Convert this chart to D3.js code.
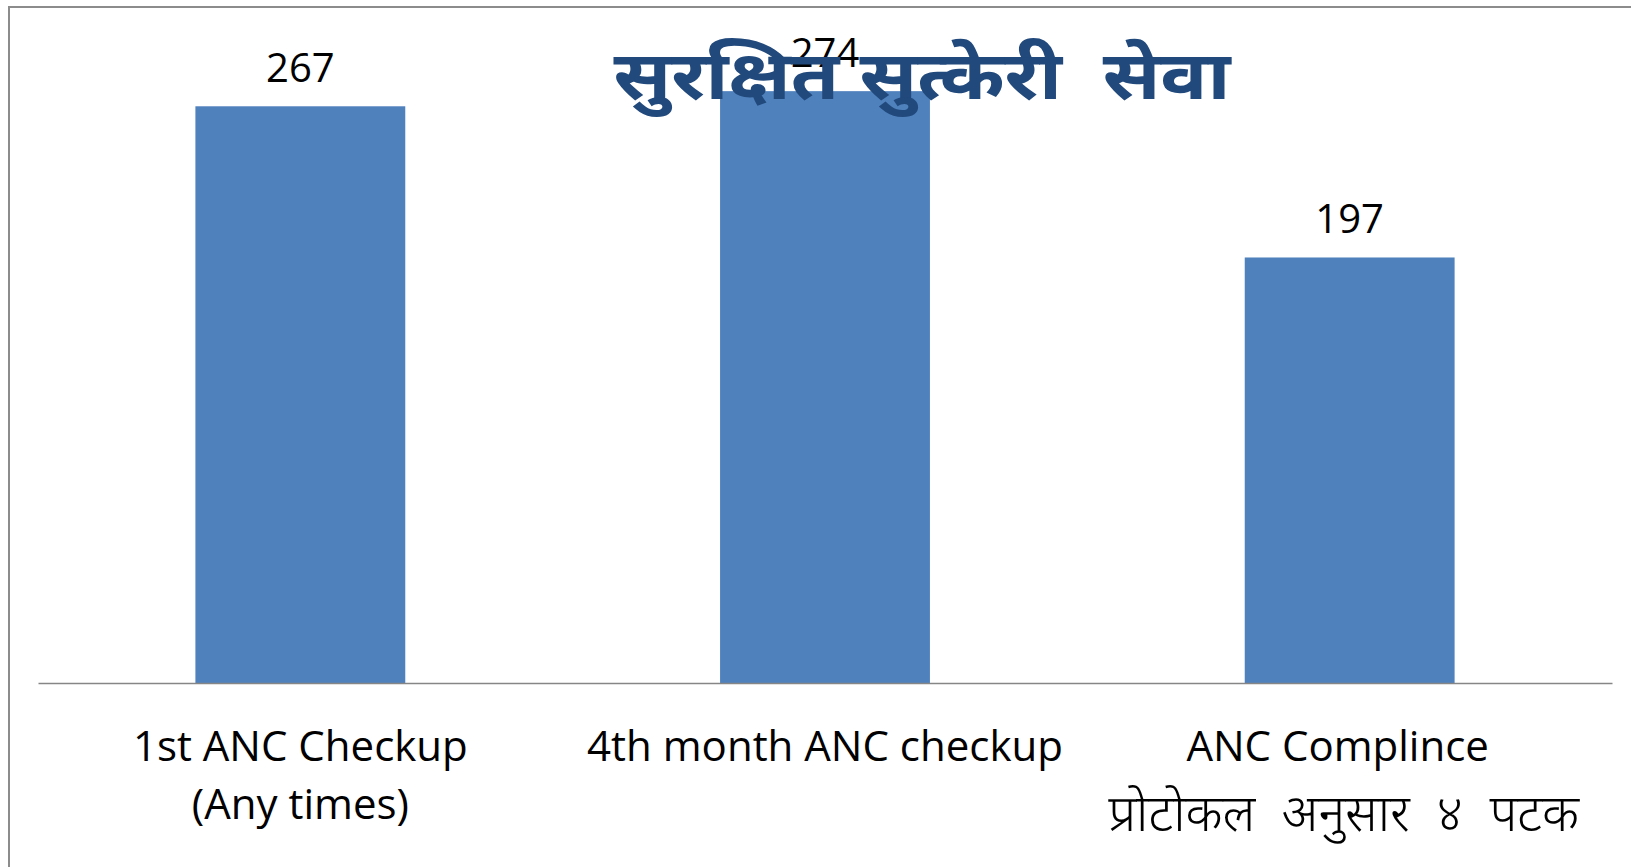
<!DOCTYPE html>
<html>
<head>
<meta charset="utf-8">
<script src="https://cdn.jsdelivr.net/npm/d3@7"></script>
<style>
  body { margin: 0; background: #fff; }
  svg { display: block; }
</style>
</head>
<body>
<script>
// chart data
const categories = ["1st ANC Checkup", "4th month ANC checkup", "ANC Complince"];
const values = [267, 274, 197];
// second line under each category (empty if none)
const subLines = ["(Any times)", "", ""];
const title = "सुरक्षित सुत्केरी  सेवा";
const noteText = "प्रोटोकल  अनुसार  ४  पटक";

const W = 1631, H = 867;
const latin = "'Open Sans', 'Noto Sans', sans-serif";
const deva = "'Noto Sans Devanagari', 'Lohit Devanagari', 'Mangal', 'FreeSans', 'Noto Sans', sans-serif";

const svg = d3.select("body").append("svg")
  .attr("width", W)
  .attr("height", H);

// outer frame (only top and left edges are visible)
svg.append("path")
  .attr("d", `M9,${H} V7 H${W}`)
  .attr("fill", "none")
  .attr("stroke", "#8c8c8c")
  .attr("stroke-width", 2);

const x = d3.scaleBand()
  .domain(categories)
  .range([38, 1612])
  .paddingInner(0.6)
  .paddingOuter(0.3);

const y = d3.scaleLinear()
  .domain([0, 300])
  .range([683, 35]);

const cx = c => x(c) + x.bandwidth() / 2;

// bars
svg.selectAll("rect.bar")
  .data(values)
  .join("rect")
  .attr("class", "bar")
  .attr("x", (d, i) => x(categories[i]))
  .attr("y", d => y(d))
  .attr("width", x.bandwidth())
  .attr("height", d => y(0) - y(d))
  .attr("fill", "#4f81bd");

// category axis
const axis = svg.append("g")
  .attr("transform", `translate(0,${y(0)})`)
  .call(d3.axisBottom(x).tickSize(0).tickFormat(""));
axis.select(".domain")
  .attr("stroke", "#868686")
  .attr("stroke-width", 1.5);

// category labels
const lab = svg.append("g")
  .attr("font-family", latin)
  .attr("font-size", 42)
  .attr("fill", "#000")
  .attr("text-anchor", "middle");
lab.selectAll("text.cat")
  .data(categories)
  .join("text")
  .attr("class", "cat")
  .attr("x", (d, i) => cx(d) - (i === 2 ? 12 : 0))
  .attr("y", 761)
  .text(d => d);
lab.selectAll("text.sub")
  .data(subLines)
  .join("text")
  .attr("class", "sub")
  .attr("x", (d, i) => cx(categories[i]))
  .attr("y", 819)
  .text(d => d);

// value labels
svg.append("g")
  .attr("font-family", latin)
  .attr("font-size", 40)
  .attr("text-anchor", "middle")
  .selectAll("text")
  .data(values)
  .join("text")
  .attr("x", (d, i) => cx(categories[i]))
  .attr("y", d => y(d) - 24)
  .text(d => d);

// Nepali note under the last category
svg.append("text")
  .attr("x", cx(categories[2]) - 6)
  .attr("y", 831)
  .attr("text-anchor", "middle")
  .attr("font-family", deva)
  .attr("font-weight", 350)
  .attr("font-size", 51)
  .attr("fill", "#000")
  .style("white-space", "pre")
  .text(noteText);

// title drawn last, on top of bars
svg.append("text")
  .attr("x", 922)
  .attr("y", 99)
  .attr("text-anchor", "middle")
  .attr("font-family", deva)
  .attr("font-weight", "bold")
  .attr("font-size", 68)
  .attr("fill", "#21497c")
  .attr("textLength", 617)
  .attr("lengthAdjust", "spacingAndGlyphs")
  .style("white-space", "pre")
  .text(title);
</script>
</body>
</html>
